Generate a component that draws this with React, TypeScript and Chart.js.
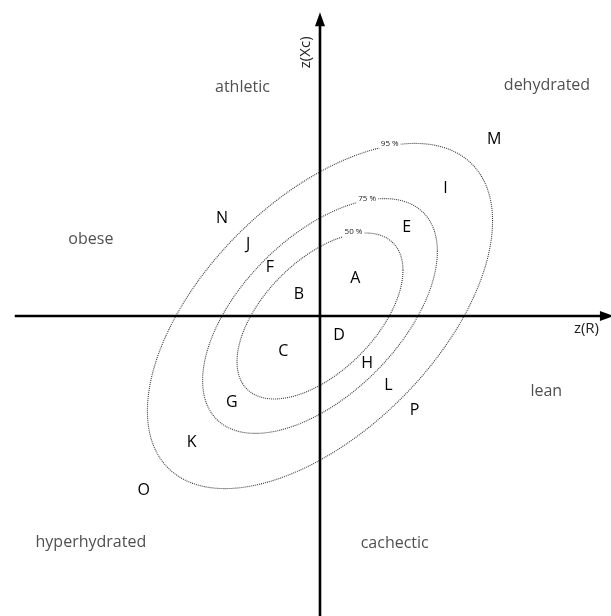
import React, { useEffect, useRef } from 'react';
import { Chart, registerables } from 'chart.js';

Chart.register(...registerables);

// Letters placed on the z-score graph
const pointLetters = ['A', 'B', 'C', 'D', 'E', 'F', 'G', 'H', 'I', 'J', 'K', 'L', 'M', 'N', 'O', 'P'];
const pointX = [0.5, -0.3, -0.52, 0.27, 1.23, -0.71, -1.25, 0.67, 1.78, -1.02, -1.82, 0.97, 2.47, -1.39, -2.5, 1.34];
const pointY = [0.53, 0.31, -0.5, -0.28, 1.26, 0.69, -1.23, -0.67, 1.81, 1.02, -1.79, -0.98, 2.5, 1.38, -2.47, -1.34];

// Quadrant / region names
const regionNames = ['athletic', 'dehydrated', 'obese', 'lean', 'hyperhydrated', 'cachectic'];
const regionX = [-1.1, 3.22, -3.25, 3.21, -3.25, 1.06];
const regionY = [3.24, 3.27, 1.08, -1.07, -3.21, -3.22];

// Tolerance ellipses
const toleranceLabels = ['50 %', '75 %', '95 %'];
const toleranceRadii = [1.177, 1.665, 2.448];
const toleranceLabelX = [0.475, 0.67, 0.99];
const toleranceLabelY = [1.19, 1.67, 2.45];
const correlation = 0.55;

// Axis titles
const axisTitles = ['z(R)', 'z(Xc)'];
const axisTitleX = [3.78, -0.2];
const axisTitleY = [-0.18, 3.74];

// Visible range of the graph
const xRange = [-4.539, 4.128];
const yRange = [-4.255, 4.482];
const axisEnds = [-4.33, 4.17, 4.31]; // x-axis start, x-axis tip, y-axis tip

const FONT = '"Open Sans", "Noto Sans", sans-serif';

const bivaPlugin = {
  id: 'biva',
  beforeDatasetsDraw(chart: any) {
    const { ctx } = chart;
    const xs = chart.scales.x;
    const ys = chart.scales.y;
    const r = correlation;
    const s = Math.sqrt(1 - r * r);
    ctx.save();
    // ellipses
    ctx.strokeStyle = '#3a3a3a';
    ctx.lineWidth = 1.1;
    ctx.setLineDash([1, 1]);
    toleranceRadii.forEach((c) => {
      ctx.beginPath();
      for (let i = 0; i <= 720; i++) {
        const t = (i / 720) * Math.PI * 2;
        const dx = c * Math.cos(t);
        const dy = c * (r * Math.cos(t) + s * Math.sin(t));
        const px = xs.getPixelForValue(dx);
        const py = ys.getPixelForValue(dy);
        if (i === 0) ctx.moveTo(px, py);
        else ctx.lineTo(px, py);
      }
      ctx.closePath();
      ctx.stroke();
    });
    ctx.setLineDash([]);
    // tolerance labels
    ctx.font = `8px ${FONT}`;
    ctx.textAlign = 'center';
    ctx.textBaseline = 'middle';
    toleranceLabels.forEach((lab, i) => {
      const px = xs.getPixelForValue(toleranceLabelX[i]);
      const py = ys.getPixelForValue(toleranceLabelY[i]);
      const w = ctx.measureText(lab).width + 4;
      ctx.fillStyle = '#ffffff';
      ctx.fillRect(px - w / 2, py - 5, w, 10);
      ctx.fillStyle = '#222222';
      ctx.fillText(lab, px, py);
    });
    // axes
    ctx.strokeStyle = '#000000';
    ctx.fillStyle = '#000000';
    ctx.lineWidth = 2.6;
    const x0 = xs.getPixelForValue(0);
    const y0 = ys.getPixelForValue(0);
    const xl = xs.getPixelForValue(axisEnds[0]);
    const xt = xs.getPixelForValue(axisEnds[1]);
    const yt = ys.getPixelForValue(axisEnds[2]);
    const yb = ys.getPixelForValue(yRange[0]);
    ctx.beginPath();
    ctx.moveTo(xl, y0);
    ctx.lineTo(xt - 10, y0);
    ctx.moveTo(x0, yb);
    ctx.lineTo(x0, yt + 10);
    ctx.stroke();
    // arrow heads
    ctx.beginPath();
    ctx.moveTo(xt, y0);
    ctx.lineTo(xt - 14, y0 - 5);
    ctx.lineTo(xt - 14, y0 + 5);
    ctx.closePath();
    ctx.fill();
    ctx.beginPath();
    ctx.moveTo(x0, yt);
    ctx.lineTo(x0 - 5, yt + 14);
    ctx.lineTo(x0 + 5, yt + 14);
    ctx.closePath();
    ctx.fill();
    // axis titles
    ctx.font = `15px ${FONT}`;
    ctx.fillStyle = '#222222';
    ctx.textAlign = 'center';
    ctx.textBaseline = 'middle';
    ctx.fillText(axisTitles[0], xs.getPixelForValue(axisTitleX[0]), ys.getPixelForValue(axisTitleY[0]));
    ctx.save();
    ctx.translate(xs.getPixelForValue(axisTitleX[1]), ys.getPixelForValue(axisTitleY[1]));
    ctx.rotate(-Math.PI / 2);
    ctx.fillText(axisTitles[1], 0, 0);
    ctx.restore();
    ctx.restore();
  },
  afterDatasetsDraw(chart: any) {
    const { ctx } = chart;
    ctx.save();
    ctx.textAlign = 'center';
    ctx.textBaseline = 'middle';
    const letters = chart.getDatasetMeta(0).data;
    ctx.font = `16px ${FONT}`;
    ctx.fillStyle = '#000000';
    letters.forEach((el: any, i: number) => {
      ctx.fillText(pointLetters[i], el.x, el.y);
    });
    const regions = chart.getDatasetMeta(1).data;
    ctx.font = `16px ${FONT}`;
    ctx.fillStyle = '#505050';
    regions.forEach((el: any, i: number) => {
      ctx.fillText(regionNames[i], el.x, el.y);
    });
    ctx.restore();
  },
};

export default function App() {
  const canvasRef = useRef<HTMLCanvasElement | null>(null);
  useEffect(() => {
    document.body.style.margin = '0';
    const canvas = canvasRef.current;
    if (!canvas) return;
    const chart = new Chart(canvas, {
      type: 'scatter',
      data: {
        datasets: [
          {
            label: 'points',
            data: pointX.map((x, i) => ({ x, y: pointY[i] })),
            pointRadius: 0,
            pointHoverRadius: 0,
          },
          {
            label: 'regions',
            data: regionX.map((x, i) => ({ x, y: regionY[i] })),
            pointRadius: 0,
            pointHoverRadius: 0,
          },
        ],
      },
      options: {
        animation: false,
        responsive: false,
        devicePixelRatio: 1,
        layout: { padding: 0 },
        plugins: { legend: { display: false }, tooltip: { enabled: false } },
        scales: {
          x: { type: 'linear', min: xRange[0], max: xRange[1], display: false },
          y: { type: 'linear', min: yRange[0], max: yRange[1], display: false },
        },
      },
      plugins: [bivaPlugin],
    });
    return () => chart.destroy();
  }, []);
  return (
    <div style={{ width: 611, height: 616, background: '#ffffff' }}>
      <canvas ref={canvasRef} width={611} height={616} />
    </div>
  );
}
